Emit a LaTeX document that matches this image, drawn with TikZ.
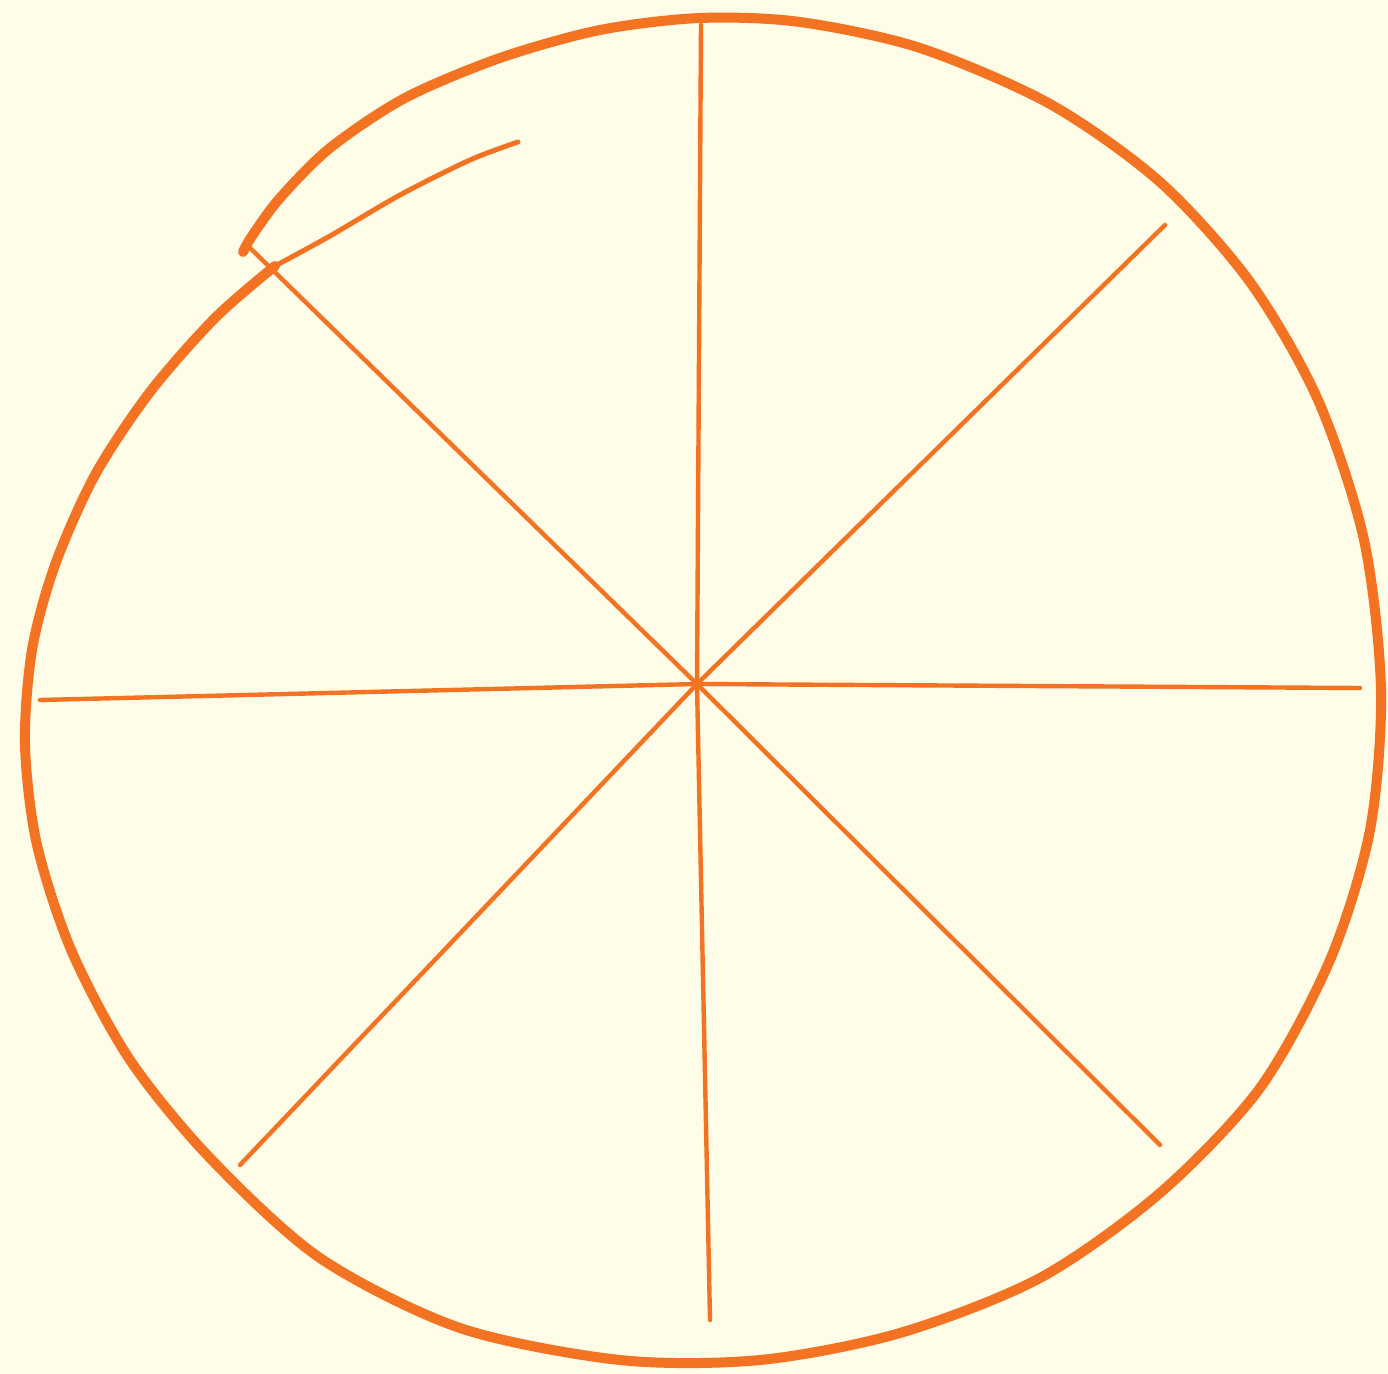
\documentclass[tikz,border=0pt]{standalone}
\definecolor{paper}{RGB}{255,252,232}
\definecolor{pumpkin}{RGB}{243,115,35}
\tikzset{
  rim/.style={draw=pumpkin,line width=5pt,line cap=round,line join=round},
  lead/.style={draw=pumpkin,line width=2.5pt,line cap=round},
  spoke/.style={draw=pumpkin,line width=2.2pt,line cap=round}
}
\begin{document}
\begin{tikzpicture}[x=.5pt,y=-.5pt]
\path[use as bounding box,fill=paper] (0,0) rectangle (1388,1374);
% hub and spoke ends
\coordinate (hub) at (697,684);
\coordinate (n) at (701,25);
\coordinate (ne) at (1165,225);
\coordinate (e) at (1360,688);
\coordinate (se) at (1160,1145);
\coordinate (s) at (710,1320);
\coordinate (sw) at (240,1165);
\coordinate (w) at (40,700);
\coordinate (nw) at (248,246);
\foreach \p in {n,ne,e,se,s,sw,w,nw}
  \draw[spoke] (hub) -- (\p);
% thin lead-in of the rim
\draw[lead] plot[smooth] coordinates {(518,142) (470,160) (400,195) (330,236) (275,266)};
% the rim
\draw[rim] plot[smooth] coordinates {(275,266) (215,318) (150,392) (95,475) (55,565) (32,650) (25,745) (37,845) (72,952) (130,1060) (210,1158) (320,1258) (460,1328) (620,1360) (760,1360) (900,1333) (1040,1278) (1160,1193) (1260,1088) (1330,960) (1370,830) (1381,690) (1364,540) (1318,400) (1250,282) (1160,182) (1050,104) (920,48) (800,22) (700,18) (600,30) (500,58) (405,98) (330,148) (280,198) (252,236) (243,252)};
\end{tikzpicture}
\end{document}
